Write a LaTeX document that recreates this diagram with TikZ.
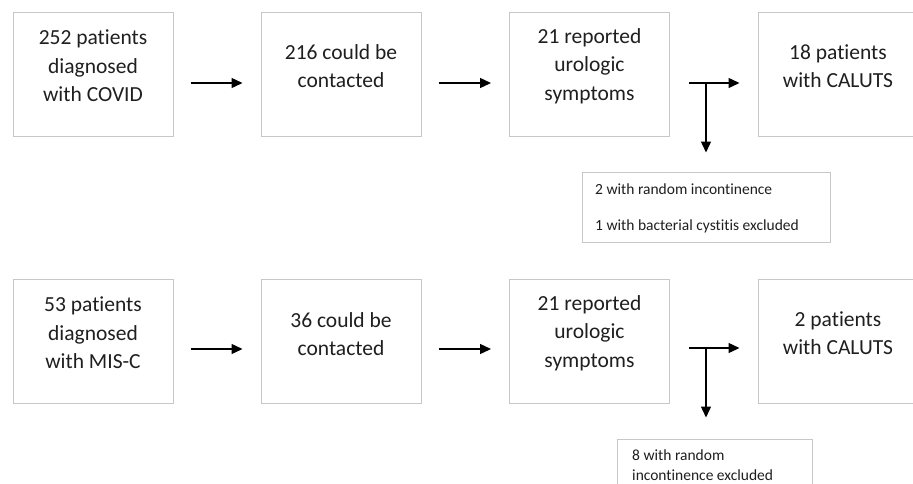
\documentclass[tikz,border=0pt]{standalone}
\usepackage{fontspec}
\setmainfont[Ligatures={NoCommon}]{Carlito}
\usetikzlibrary{arrows.meta}
\begin{document}
\begin{tikzpicture}[x=1pt,y=-1pt,
  box/.style={draw=black!22,line width=1pt,fill=white,minimum width=160pt,minimum height=124pt,inner sep=0pt},
  txt/.style={align=center,text=black!88,font=\fontsize{21.5}{28.5}\selectfont,inner sep=0pt},
  exbox/.style={draw=black!22,line width=1pt,fill=white,inner sep=0pt},
  small/.style={text=black!88,font=\fontsize{15.5}{19}\selectfont,inner sep=0pt,anchor=base west},
  arr/.style={line width=1.4pt,black,-{Triangle[length=11pt,width=10pt]}},
  ln/.style={line width=1.4pt,black}]
\useasboundingbox (0,0) rectangle (913,483);
% top row
\node[box] (a1) at (93,74) {};
\node[box] (a2) at (341,74) {};
\node[box] (a3) at (589.5,74) {};
\node[box] (a4) at (838,74) {};
\node[txt] (ta1) at ([yshift=8pt]a1.center) {252 patients\\diagnosed\\with COVID};
\node[txt] (ta2) at ([yshift=8pt]a2.center) {216 could be\\contacted};
\node[txt] (ta3) at ([yshift=8pt]a3.center) {21 reported\\urologic\\symptoms};
\node[txt] (ta4) at ([yshift=8pt]a4.center) {18 patients\\with CALUTS};
\node[exbox,minimum width=248pt,minimum height=70pt] (e1) at (706,207) {};
\node[small] (e1a) at (595,194.5) {2 with random incontinence};
\node[small] (e1b) at (595,230.5) {1 with bacterial cystitis excluded};
\draw[arr] ([shift={(17,9)}]a1.east) -- ([shift={(-18,9)}]a2.west);
\draw[arr] ([shift={(17,9)}]a2.east) -- ([shift={(-18,9)}]a3.west);
\draw[arr] ([shift={(19,9)}]a3.east) -- ([shift={(-18,9)}]a4.west);
\coordinate (j1) at ([shift={(36,9)}]a3.east);
\draw[arr] (j1) -- ([yshift=19pt]j1 |- e1.north);
% bottom row
\node[box] (b1) at (93,341) {};
\node[box] (b2) at (341,341) {};
\node[box] (b3) at (589.5,341) {};
\node[box] (b4) at (838,341) {};
\node[txt] (tb1) at ([yshift=8pt]b1.center) {53 patients\\diagnosed\\with MIS-C};
\node[txt] (tb2) at ([yshift=7pt]b2.center) {36 could be\\contacted};
\node[txt] (tb3) at ([yshift=8pt]b3.center) {21 reported\\urologic\\symptoms};
\node[txt] (tb4) at ([yshift=8pt]b4.center) {2 patients\\with CALUTS};
\node[exbox,minimum width=195pt,minimum height=64pt] (e2) at (714.5,471) {};
\node[small] (e2a) at (632,460.5) {8 with random};
\node[small] (e2b) at (632,480.5) {incontinence excluded};
\draw[arr] ([shift={(17,8)}]b1.east) -- ([shift={(-18,8)}]b2.west);
\draw[arr] ([shift={(17,8)}]b2.east) -- ([shift={(-18,8)}]b3.west);
\draw[arr] ([shift={(19,7)}]b3.east) -- ([shift={(-18,7)}]b4.west);
\coordinate (j2) at ([shift={(36,7)}]b3.east);
\draw[arr] (j2) -- ([yshift=21pt]j2 |- e2.north);
\end{tikzpicture}
\end{document}
